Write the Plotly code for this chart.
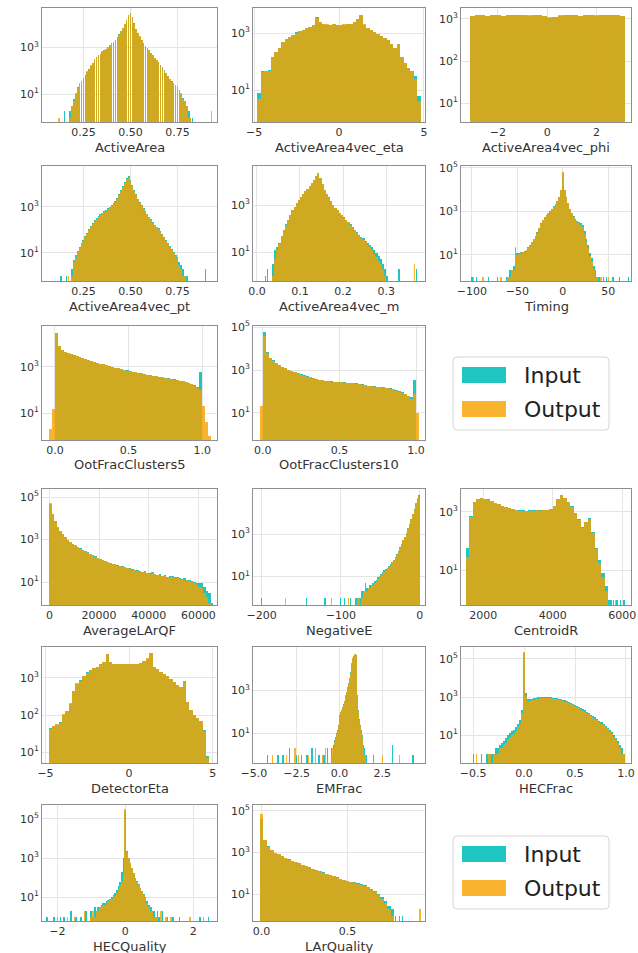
import numpy as np
import plotly.graph_objects as go

# ------------------------------------------------------------------ data
# each histogram: first bin edge, bin width, counts for Input / Output,
# plus isolated single-entry bins far in the tails (x position, count)

aa_start, aa_width = 0.175, 0.01
aa_in = [2,3,6,10,20,28,38,50,65,90,120,170,230,300,380,470,560,680,780,900,1050,1250,1550,1800,2200,2800,3700,5000,7000,10000,16000,24000,31000,20000,11000,6500,4200,3000,2200,1600,1200,950,780,600,470,370,300,240,180,140,105,80,60,46,36,30,25,21,15,10,7,5,3,2,1,1]
aa_out = [1,3,5,11,18,30,36,52,62,95,115,175,220,310,370,480,550,690,770,910,1040,1260,1530,1820,2150,2850,3650,5100,6900,10200,15500,24500,30000,20500,10800,6600,4100,3050,2150,1620,1180,960,770,610,460,375,295,245,175,142,100,82,58,47,35,31,24,22,14,11,6,5,3,1,1,0]
aa_in_sp_x, aa_in_sp_y = [0.15], [2]
aa_out_sp_x, aa_out_sp_y = [0.12, 0.93], [1, 2]

eta_start, eta_width = -4.8, 0.2
eta_in = [8,45,45,50,140,220,300,480,620,720,850,1050,1150,1300,1450,1650,1900,3600,2400,2100,2000,1950,2050,2000,1950,2000,2050,2100,2400,3000,4300,2000,1500,1300,1100,950,800,680,560,420,300,420,150,90,60,48,30,6]
eta_out = [5,42,47,48,145,210,310,470,630,710,860,1040,1160,1290,1460,1640,1920,3500,2450,2080,2020,1930,2060,1990,1960,2010,2040,2110,2380,3050,4200,2050,1480,1310,1090,960,790,690,550,430,290,430,145,92,58,46,25,4]
eta_in_sp_x, eta_in_sp_y = [], []
eta_out_sp_x, eta_out_sp_y = [], []

phi_start, phi_width = -3.15, 0.21
phi_in = [1180,1250,1220,1200,1260,1230,1190,1240,1210,1250,1230,1200,1240,1270,1150,1080,1120,1200,1230,1210,1250,1180,1220,1240,1200,1230,1260,1210,1240,1190]
phi_out = [1200,1230,1240,1190,1250,1240,1200,1220,1230,1240,1210,1220,1250,1260,1160,1090,1110,1210,1220,1230,1240,1190,1210,1250,1210,1220,1250,1230,1230,1200]
phi_in_sp_x, phi_in_sp_y = [], []
phi_out_sp_x, phi_out_sp_y = [], []

pt_start, pt_width = 0.185, 0.01
pt_in = [2,5,8,12,18,26,37,55,75,105,150,200,260,320,390,470,550,640,740,860,1000,1200,1450,1800,2400,3500,5500,8000,12000,18000,22000,15000,9000,5500,3500,2300,1650,1200,900,680,500,370,290,220,170,140,120,90,65,48,35,27,20,15,11,8,7,4,3,2,1,1]
pt_out = [1,4,7,11,16,24,33,50,70,98,140,190,245,305,370,450,530,610,700,820,950,1150,1380,1700,2250,3300,5000,7500,11000,16000,19000,13500,8300,5100,3300,2150,1550,1130,850,640,470,350,270,205,160,130,110,82,60,44,32,25,18,13,10,7,6,3,2,1,1,0]
pt_in_sp_x, pt_in_sp_y = [0.13, 0.16, 0.90], [1, 1, 2]
pt_out_sp_x, pt_out_sp_y = [0.17], [1]

m_start, m_width = 0.035, 0.005
m_in = [3,12,16,25,50,90,150,240,380,600,850,1200,1700,2300,3000,3900,5000,6500,8500,12000,18000,23000,14000,8000,4500,3000,2100,1500,1050,780,600,480,380,300,240,190,150,115,90,70,55,45,38,30,24,20,16,12,9,7,5,3,2,1]
m_out = [1,5,12,22,46,85,145,235,370,590,840,1180,1690,2280,2950,3850,4950,6400,8300,11800,17500,22500,14200,8100,4400,2950,2080,1480,1030,770,590,470,370,295,235,185,145,110,85,66,50,40,33,26,20,16,12,8,6,4,3,2,1,0]
m_in_sp_x, m_in_sp_y = [0.02, 0.025, 0.33, 0.37], [1, 2, 2, 2]
m_out_sp_x, m_out_sp_y = [0.365], [3]

tim_start, tim_width = -63, 2
tim_in = [1,1,2,2,3,20,12,12,13,14,15,17,22,28,40,55,75,110,170,280,420,580,720,880,1000,1300,1700,2200,3000,4500,10000,60000,10000,4500,2500,1300,850,600,450,380,330,300,240,120,55,28,12,7,3,2,1,1]
tim_out = [0,1,1,2,2,22,10,11,12,13,14,16,20,26,38,52,72,105,165,270,410,570,710,870,990,1280,1680,2150,2950,4400,9800,62000,9700,4400,2450,1250,820,570,420,340,280,250,190,90,40,20,9,5,2,1,1,0]
tim_in_sp_x, tim_in_sp_y = [-100, -95, -82, -72, 45, 48, 55, 62, 72], [1, 1, 1, 1, 1, 1, 1, 1, 1]
tim_out_sp_x, tim_out_sp_y = [-98, -88, -68, 42, 50], [1, 1, 1, 1, 1]

oot5_start, oot5_width = -0.04, 0.02
oot5_in = [0,0,30000,8000,5500,4500,4000,3600,3200,2900,2700,2500,2200,2000,1800,1650,1500,1400,1300,1200,1100,1000,930,870,810,760,710,670,630,590,560,530,500,470,450,420,400,380,360,340,320,300,290,275,255,240,225,200,180,160,130,600,0,0,0]
oot5_out = [2,15,30000,8000,5400,4500,3900,3600,3150,2900,2650,2500,2180,2000,1780,1650,1490,1400,1290,1200,1090,1000,920,870,800,760,700,670,620,590,550,530,495,470,445,420,395,380,355,340,315,300,285,270,250,235,220,195,175,150,120,100,20,4,1]
oot5_in_sp_x, oot5_in_sp_y = [], []
oot5_out_sp_x, oot5_out_sp_y = [], []

oot10_start, oot10_width = -0.02, 0.02
oot10_in = [0,60000,7000,3600,2800,2200,1700,1450,1250,1050,900,800,700,620,560,500,460,420,390,360,340,320,305,295,285,280,270,265,260,255,250,240,230,215,200,190,180,175,170,160,155,150,140,130,115,100,90,80,65,55,340,0]
oot10_out = [20,40000,6500,3500,2750,2150,1680,1430,1240,1040,890,790,695,615,555,495,455,415,385,355,335,315,300,290,280,275,265,260,255,250,245,235,225,210,195,185,175,170,165,155,150,145,135,125,110,95,85,75,60,45,80,10]
oot10_in_sp_x, oot10_in_sp_y = [], []
oot10_out_sp_x, oot10_out_sp_y = [], []

lqf_start, lqf_width = 0, 1000
lqf_in = [45000,16000,7500,3800,2600,1800,1300,1000,800,650,540,450,380,330,280,250,210,180,160,140,120,110,95,90,80,72,70,62,60,55,52,48,45,40,38,36,33,30,32,28,26,30,24,22,24,20,22,18,20,19,17,18,15,14,15,13,12,11,10,9,9,9,6,4,3,1]
lqf_out = [50000,15500,7300,3700,2550,1780,1280,990,790,640,530,445,375,325,275,245,205,178,158,138,118,108,93,88,78,70,68,60,58,53,50,46,43,39,36,35,31,29,30,27,25,28,23,21,22,19,20,17,18,17,16,16,14,13,13,12,11,10,9,8,6,5,3,2,1,0]
lqf_in_sp_x, lqf_in_sp_y = [], []
lqf_out_sp_x, lqf_out_sp_y = [], []

neg_start, neg_width = -82, 2
neg_in = [1,1,1,1,2,2,5,3,3,4,4,5,6,7,9,11,13,16,20,22,25,30,38,48,62,80,110,160,240,350,520,750,1200,2000,3200,5500,9000,15000,30000,50000,70000]
neg_out = [0,1,1,0,1,2,2,2,3,3,4,4,5,6,8,10,12,15,17,21,24,29,36,46,60,78,105,155,235,340,510,740,1180,1950,3150,5400,8800,15500,31000,52000,68000]
neg_in_sp_x, neg_in_sp_y = [-200, -143, -120, -100, -95, -88], [1, 1, 1, 1, 1, 1]
neg_out_sp_x, neg_out_sp_y = [-170, -112, -90], [1, 1, 1]

cr_start, cr_width = 1500, 100
cr_in = [60,700,2200,2700,2900,2800,2600,2300,2000,1800,1600,1450,1300,1200,1150,1100,1100,1080,1100,1100,1120,1100,1120,1150,1200,1600,2800,3700,3000,2200,1500,900,550,300,450,600,200,60,22,8,3,1]
cr_out = [30,650,2150,2680,2880,2790,2590,2290,1990,1790,1590,1440,1290,1190,1140,1090,1090,1070,1090,1090,1110,1090,1110,1140,1190,1580,2780,3650,2980,2180,1480,880,540,290,440,580,190,55,18,6,2,0]
cr_in_sp_x, cr_in_sp_y = [5750, 5850, 5950, 6050], [1, 1, 1, 1]
cr_out_sp_x, cr_out_sp_y = [5800], [1]

de_start, de_width = -4.8, 0.2
de_in = [45,52,55,65,100,130,200,450,700,850,1100,1400,1600,1850,2000,2300,2600,4400,2600,2300,2300,2350,2300,2350,2400,2350,2400,2500,2800,3300,4700,2000,1700,1450,1300,1100,920,780,650,560,830,220,140,100,85,70,40,8]
de_out = [42,50,57,63,105,125,205,440,710,840,1110,1390,1610,1840,2010,2290,2620,4300,2620,2290,2310,2340,2310,2340,2410,2340,2390,2510,2790,3320,4600,2020,1690,1460,1290,1110,910,790,640,570,800,225,135,102,83,68,38,7]
de_in_sp_x, de_in_sp_y = [], []
de_out_sp_x, de_out_sp_y = [], []

em_start, em_width = -0.5, 0.05
em_in = [2,1,2,3,5,7,10,14,25,45,70,100,130,170,230,320,450,650,900,1400,2300,4000,7000,12000,20000,32000,42000,48000,50000,45000,5000,600,120,45,25,14,8,5,3,2,1,1]
em_out = [1,2,2,2,4,6,9,13,22,42,65,95,125,165,225,310,440,640,880,1380,2250,3950,6900,11800,19800,31500,41000,49000,51000,43000,4500,550,110,40,22,12,7,4,2,1,1,0]
em_in_sp_x, em_in_sp_y = [-4.2,-3.6,-3.3,-2.9,-2.5,-2.2,-1.9,-1.6,-1.2,-0.9,-0.7,2.0,3.1,4.3], [1,1,1,2,1,1,1,2,1,1,2,1,3,1]
em_out_sp_x, em_out_sp_y = [-3.9,-3.1,-2.6,-2.4,-1.8,-1.4,-1.0,-0.8,2.5,3.5], [1,1,2,1,1,2,1,2,1,1]

hf_start, hf_width = -0.37, 0.02
hf_in = [1,1,1,1,2,2,3,4,5,7,10,13,16,19,25,40,60,200,200000,1600,800,750,800,850,900,950,980,1000,1000,1000,990,970,940,900,860,820,770,720,660,600,550,500,440,390,340,300,260,230,200,170,145,120,100,85,70,58,47,38,30,24,18,14,10,7,5,3,2,1]
hf_out = [0,1,0,1,1,1,2,2,3,4,6,8,10,12,16,25,40,150,230000,1200,650,620,680,730,780,820,850,870,870,870,860,840,820,780,750,710,670,620,570,520,470,430,380,335,290,255,220,195,170,145,123,102,85,72,60,49,40,32,25,20,15,12,8,6,4,2,1,1]
hf_in_sp_x, hf_in_sp_y = [-0.5, -0.42], [1, 1]
hf_out_sp_x, hf_out_sp_y = [-0.47], [1]

hq_start, hq_width = -1.025, 0.05
hq_in = [2,1,3,2,3,3,4,5,5,6,7,8,10,13,16,22,35,60,200,1000,250000,2300,1000,550,320,180,100,65,46,30,21,14,10,6,4,3,2,2,1,2,1]
hq_out = [1,2,1,2,2,3,3,4,4,5,6,7,8,10,12,16,25,40,70,150,320000,2000,950,530,310,175,98,62,44,28,20,13,9,5,3,2,2,1,1,1,0]
hq_in_sp_x, hq_in_sp_y = [-2.3,-2.1,-1.9,-1.8,-1.6,-1.45,-1.3,-1.15,1.1,1.25,1.4,1.6,2.2,2.45], [1,1,1,1,2,1,1,2,2,1,1,1,1,1]
hq_out_sp_x, hq_out_sp_y = [-2.0,-1.7,-1.5,-1.2,1.05,1.2,1.35,1.9,2.3], [1,1,1,2,2,1,1,1,1]

lq_start, lq_width = -0.01, 0.02
lq_in = [40000,4000,2000,1400,1000,840,680,560,470,400,360,310,270,235,200,170,150,130,115,100,85,76,66,58,52,46,42,38,34,31,28,24,18,15,11,8,5,3,2]
lq_out = [70000,3800,1950,1380,990,830,670,555,465,395,355,305,265,230,198,168,148,128,112,98,84,74,65,57,50,45,41,37,33,30,26,22,17,13,10,6,4,2,1]
lq_in_sp_x, lq_in_sp_y = [0.78, 0.80, 0.82], [1, 1, 1]
lq_out_sp_x, lq_out_sp_y = [0.92], [2]

series_names = ["Input", "Output"]

# ------------------------------------------------------------------ layout
W, H = 638, 953
ROWS = [(8, 122), (166, 281), (326, 440), (489, 605), (647, 763), (805, 921)]
COLS = [(42, 217), (253, 425), (461, 631)]
C_IN = "rgba(0,189,184,0.88)"
C_OUT = "rgba(248,162,0,0.82)"
FONT = "DejaVu Sans"
MN = "\u2212"

def H_(v):
    return [str(t).replace("-", MN) for t in v]

panels = [
    ("ActiveArea", 0, 0, aa_start, aa_width, aa_in, aa_out, aa_in_sp_x, aa_in_sp_y, aa_out_sp_x, aa_out_sp_y,
     [0.03, 0.96], [0.25, 0.5, 0.75], ["0.25", "0.50", "0.75"], [-0.19, 4.70], [1, 3], 0.82),
    ("ActiveArea4vec_eta", 0, 1, eta_start, eta_width, eta_in, eta_out, eta_in_sp_x, eta_in_sp_y, eta_out_sp_x, eta_out_sp_y,
     [-5.06, 5.06], [-5, 0, 5], H_([-5, 0, 5]), [-0.12, 3.88], [1, 3], 1.0),
    ("ActiveArea4vec_phi", 0, 2, phi_start, phi_width, phi_in, phi_out, phi_in_sp_x, phi_in_sp_y, phi_out_sp_x, phi_out_sp_y,
     [-3.5, 3.4], [-2, 0, 2], H_([-2, 0, 2]), [0.55, 3.26], [1, 2, 3], 1.0),
    ("ActiveArea4vec_pt", 1, 0, pt_start, pt_width, pt_in, pt_out, pt_in_sp_x, pt_in_sp_y, pt_out_sp_x, pt_out_sp_y,
     [0.03, 0.96], [0.25, 0.5, 0.75], ["0.25", "0.50", "0.75"], [-0.22, 4.78], [1, 3], 1.0),
    ("ActiveArea4vec_m", 1, 1, m_start, m_width, m_in, m_out, m_in_sp_x, m_in_sp_y, m_out_sp_x, m_out_sp_y,
     [-0.009, 0.39], [0, 0.1, 0.2, 0.3], ["0.0", "0.1", "0.2", "0.3"], [-0.23, 4.66], [1, 3], 1.0),
    ("Timing", 1, 2, tim_start, tim_width, tim_in, tim_out, tim_in_sp_x, tim_in_sp_y, tim_out_sp_x, tim_out_sp_y,
     [-112, 75], [-100, -50, 0, 50], H_([-100, -50, 0, 50]), [-0.2, 5.09], [1, 3, 5], 1.0),
    ("OotFracClusters5", 2, 0, oot5_start, oot5_width, oot5_in, oot5_out, oot5_in_sp_x, oot5_in_sp_y, oot5_out_sp_x, oot5_out_sp_y,
     [-0.088, 1.10], [0, 0.5, 1.0], ["0.0", "0.5", "1.0"], [-0.17, 4.78], [1, 3], 1.0),
    ("OotFracClusters10", 2, 1, oot10_start, oot10_width, oot10_in, oot10_out, oot10_in_sp_x, oot10_in_sp_y, oot10_out_sp_x, oot10_out_sp_y,
     [-0.064, 1.058], [0, 0.5, 1.0], ["0.0", "0.5", "1.0"], [-0.26, 5.05], [1, 3, 5], 1.0),
    ("AverageLArQF", 3, 0, lqf_start, lqf_width, lqf_in, lqf_out, lqf_in_sp_x, lqf_in_sp_y, lqf_out_sp_x, lqf_out_sp_y,
     [-3000, 67500], [0, 20000, 40000, 60000], ["0", "20000", "40000", "60000"], [-0.08, 5.38], [1, 3, 5], 1.0),
    ("NegativeE", 3, 1, neg_start, neg_width, neg_in, neg_out, neg_in_sp_x, neg_in_sp_y, neg_out_sp_x, neg_out_sp_y,
     [-211, 6.5], [-200, -100, 0], H_([-200, -100, 0]), [-0.35, 5.14], [1, 3], 1.0),
    ("CentroidR", 3, 2, cr_start, cr_width, cr_in, cr_out, cr_in_sp_x, cr_in_sp_y, cr_out_sp_x, cr_out_sp_y,
     [1360, 6250], [2000, 4000, 6000], ["2000", "4000", "6000"], [-0.17, 3.77], [1, 3], 1.0),
    ("DetectorEta", 4, 0, de_start, de_width, de_in, de_out, de_in_sp_x, de_in_sp_y, de_out_sp_x, de_out_sp_y,
     [-5.2, 5.25], [-5, 0, 5], H_([-5, 0, 5]), [0.71, 3.83], [1, 2, 3], 1.0),
    ("EMFrac", 4, 1, em_start, em_width, em_in, em_out, em_in_sp_x, em_in_sp_y, em_out_sp_x, em_out_sp_y,
     [-5.05, 5.0], [-5, -2.5, 0, 2.5], [MN + "5.0", MN + "2.5", "0.0", "2.5"], [-0.38, 5.03], [1, 3], 1.0),
    ("HECFrac", 4, 2, hf_start, hf_width, hf_in, hf_out, hf_in_sp_x, hf_in_sp_y, hf_out_sp_x, hf_out_sp_y,
     [-0.62, 1.05], [-0.5, 0, 0.5, 1.0], [MN + "0.5", "0.0", "0.5", "1.0"], [-0.47, 5.63], [1, 3, 5], 1.0),
    ("HECQuality", 5, 0, hq_start, hq_width, hq_in, hq_out, hq_in_sp_x, hq_in_sp_y, hq_out_sp_x, hq_out_sp_y,
     [-2.45, 2.7], [-2, 0, 2], H_([-2, 0, 2]), [-0.22, 5.71], [1, 3, 5], 1.0),
    ("LArQuality", 5, 1, lq_start, lq_width, lq_in, lq_out, lq_in_sp_x, lq_in_sp_y, lq_out_sp_x, lq_out_sp_y,
     [-0.05, 0.95], [0, 0.5], ["0.0", "0.5"], [-0.26, 5.27], [1, 3, 5], 1.0),
]

fig = go.Figure()
layout = {}
annotations = []
shapes = []

axis_common = dict(showgrid=True, gridcolor="#e5e5e5", gridwidth=1, showline=True,
                   linecolor="#8f8f8f", linewidth=1, mirror=True, ticks="", zeroline=False,
                   automargin=False,
                   tickfont=dict(family=FONT, size=11, color="#333333"), fixedrange=True)

for k, (label, r, c, start, width, vin, vout, isx, isy, osx, osy, xr, xt, xtt, yr, ye, fill) in enumerate(panels):
    n = k + 1
    xn = "x" if n == 1 else f"x{n}"
    yn = "y" if n == 1 else f"y{n}"
    x0, x1 = COLS[c]
    y0, y1 = ROWS[r]
    spw = 0.008 * (xr[1] - xr[0])
    for vals, spx, spy, col, nm in ((vin, isx, isy, C_IN, series_names[0]),
                                     (vout, osx, osy, C_OUT, series_names[1])):
        vals = np.asarray(vals, dtype=float)
        centers = start + width * (np.arange(len(vals)) + 0.5)
        keep = vals > 0
        xs = list(centers[keep]) + list(spx)
        ys = list(vals[keep]) + list(spy)
        ws = [width * fill] * int(keep.sum()) + [spw] * len(spx)
        fig.add_trace(go.Bar(x=xs, y=ys, width=ws, name=nm, xaxis=xn, yaxis=yn,
                             marker=dict(color=col, line=dict(width=0)),
                             showlegend=False, hoverinfo="skip"))
    layout["xaxis" if n == 1 else f"xaxis{n}"] = dict(
        axis_common, domain=[x0 / W, x1 / W], range=xr, tickvals=xt, ticktext=xtt, anchor=yn)
    layout["yaxis" if n == 1 else f"yaxis{n}"] = dict(
        axis_common, domain=[1 - y1 / H, 1 - y0 / H], type="log", range=yr,
        tickvals=[10 ** e for e in ye], ticktext=[f"10<sup>{e}</sup>" for e in ye], anchor=xn)
    annotations.append(dict(x=(x0 + x1) / 2 / W, y=1 - (y1 + 25) / H, xref="paper", yref="paper",
                            text=label, showarrow=False, xanchor="center", yanchor="middle",
                            font=dict(family=FONT, size=13, color="#333333")))

def rrect(xa, ya, xb, yb, rad):
    X = lambda v: v / W
    Y = lambda v: 1 - v / H
    p = (f"M {X(xa+rad)},{Y(ya)} L {X(xb-rad)},{Y(ya)} Q {X(xb)},{Y(ya)} {X(xb)},{Y(ya+rad)} "
         f"L {X(xb)},{Y(yb-rad)} Q {X(xb)},{Y(yb)} {X(xb-rad)},{Y(yb)} L {X(xa+rad)},{Y(yb)} "
         f"Q {X(xa)},{Y(yb)} {X(xa)},{Y(yb-rad)} L {X(xa)},{Y(ya+rad)} Q {X(xa)},{Y(ya)} {X(xa+rad)},{Y(ya)} Z")
    return p

for top in (357, 836):
    shapes.append(dict(type="path", xref="paper", yref="paper", path=rrect(453, top, 609, top + 73, 4),
                       line=dict(color="#d6d6d6", width=1), fillcolor="white"))
    for j, (col, nm) in enumerate(((C_IN, series_names[0]), (C_OUT, series_names[1]))):
        py = top + 10 + j * 34
        shapes.append(dict(type="rect", xref="paper", yref="paper", x0=462 / W, x1=506 / W,
                           y0=1 - (py + 16) / H, y1=1 - py / H, line=dict(width=0), fillcolor=col))
        annotations.append(dict(x=522 / W, y=1 - (py + 8) / H, xref="paper", yref="paper", text=nm,
                                showarrow=False, xanchor="left", yanchor="middle",
                                font=dict(family=FONT, size=22, color="#222222")))

fig.update_layout(layout)
fig.update_layout(width=W, height=H, autosize=False, margin=dict(l=0, r=0, t=0, b=0),
                  paper_bgcolor="white", plot_bgcolor="white", barmode="overlay", bargap=0,
                  annotations=annotations, shapes=shapes, showlegend=False,
                  font=dict(family=FONT, color="#333333"))
fig.write_html("out.html", config={"displayModeBar": False, "staticPlot": True},
               post_script="document.body.style.margin='0px';document.body.style.overflow='hidden';")
